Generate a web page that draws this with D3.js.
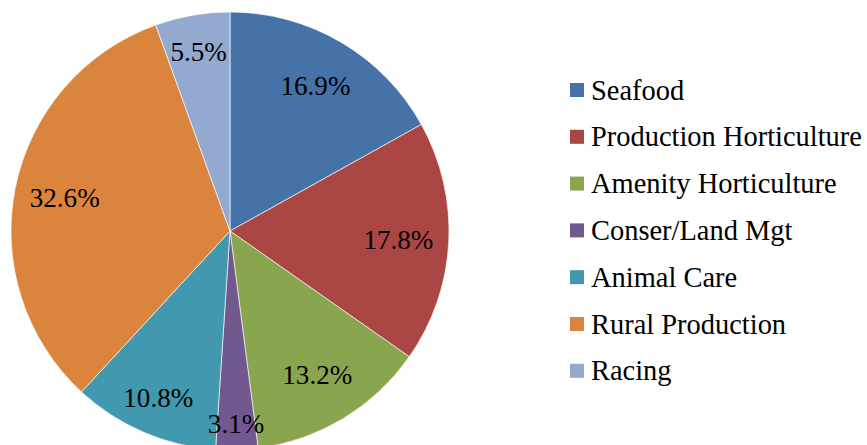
<!DOCTYPE html>
<html>
<head>
<meta charset="utf-8">
<script src="https://cdn.jsdelivr.net/npm/d3@7"></script>
<style>
  html, body { margin: 0; padding: 0; background: #ffffff; }
  svg { display: block; }
</style>
</head>
<body>
<svg id="chart" width="867" height="445"></svg>
<script>
// Share of enrolments by industry area (%)
const categories = ["Seafood", "Production Horticulture", "Amenity Horticulture", "Conser/Land Mgt", "Animal Care", "Rural Production", "Racing"];
const values = [16.9, 17.8, 13.2, 3.1, 10.8, 32.6, 5.5];
const colors = ["#4572A7", "#AA4643", "#89A54E", "#71588F", "#4198AF", "#DB843D", "#93A9CF"];

const svg = d3.select("#chart");
const cx = 230, cy = 231, radius = 219;
const fontFamily = "'Liberation Serif', 'DejaVu Serif', serif";

const data = categories.map((c, i) => ({ name: c, value: values[i], color: colors[i] }));

const pie = d3.pie().value(d => d.value).sort(null);
const arcs = pie(data);
const arc = d3.arc().innerRadius(0).outerRadius(radius);

const g = svg.append("g").attr("transform", `translate(${cx},${cy})`);

g.selectAll("path.slice")
  .data(arcs)
  .enter().append("path")
  .attr("class", "slice")
  .attr("d", arc)
  .attr("fill", d => d.data.color)
  .attr("stroke", "#ffffff")
  .attr("stroke-width", 0.8)
  .attr("stroke-opacity", 0.8);

// Narrow slices push their label further out toward the rim
function labelRadius(v) {
  if (v < 4) return radius * 0.88;
  if (v < 12) return radius * 0.83;
  return radius * 0.77;
}

const pctLabels = g.selectAll("text.pct")
  .data(arcs)
  .enter().append("text")
  .attr("class", "pct")
  .attr("transform", d => {
    const r = labelRadius(d.data.value);
    const a = (d.startAngle + d.endAngle) / 2;
    return `translate(${Math.sin(a) * r},${-Math.cos(a) * r})`;
  })
  .attr("text-anchor", "middle")
  .attr("dominant-baseline", "central")
  .attr("font-family", fontFamily)
  .attr("font-size", 22)
  .attr("fill", "#000000")
  .text(d => d.data.value.toFixed(1) + "%");

// Legend
const legendX = 570, legendY0 = 90, legendStep = 46.8, sw = 14;
const legend = svg.append("g");
const rows = legend.selectAll("g.row")
  .data(data)
  .enter().append("g")
  .attr("class", "row")
  .attr("transform", (d, i) => `translate(${legendX},${legendY0 + i * legendStep})`);

rows.append("rect")
  .attr("x", 0).attr("y", -sw / 2)
  .attr("width", sw).attr("height", sw)
  .attr("fill", d => d.color);

const labels = rows.append("text")
  .attr("x", 21)
  .attr("y", 0)
  .attr("dominant-baseline", "central")
  .attr("font-family", fontFamily)
  .attr("font-size", 22)
  .attr("fill", "#000000")
  .text(d => d.name);

// Fit the longest legend entry to the space on the right
const longest = labels.filter((d, i) => i === 1).node();
labels.attr("font-size", 22 * 271 / longest.getComputedTextLength());

// Size the percentage labels so "16.9%" spans about 70px
const firstPct = pctLabels.filter((d, i) => i === 0).node();
pctLabels.attr("font-size", 22 * 70 / firstPct.getComputedTextLength());
</script>
</body>
</html>
